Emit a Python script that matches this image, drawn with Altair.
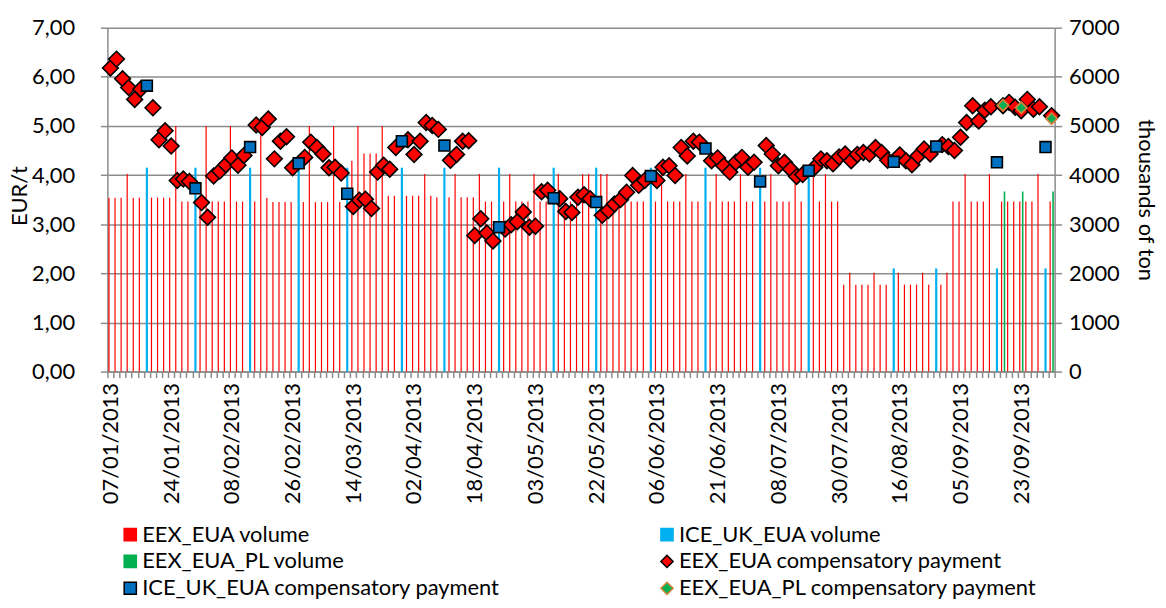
import altair as alt
import pandas as pd

# ---------------- data ----------------
N_CAT = 156
DATE_LABELS = ["07/01/2013", "24/01/2013", "08/02/2013", "26/02/2013", "14/03/2013",
               "02/04/2013", "18/04/2013", "03/05/2013", "22/05/2013", "06/06/2013",
               "21/06/2013", "08/07/2013", "30/07/2013", "16/08/2013", "05/09/2013",
               "23/09/2013"]

EEX_IDX = [0, 1, 2, 3, 4, 5, 7, 8, 9, 10, 11, 12, 13, 15, 16, 17, 18, 19, 20, 21, 22, 24, 25,
           26, 27, 28, 29, 30, 32, 33, 34, 35, 36, 37, 38, 40, 41, 42, 43, 44, 45, 46, 47,
           49, 50, 51, 52, 53, 54, 56, 57, 58, 59, 60, 61, 62, 63, 65, 66, 67, 68, 69, 70,
           71, 72, 74, 75, 76, 77, 78, 79, 81, 82, 83, 84, 85, 86, 87, 88, 90, 91, 92, 93,
           94, 95, 96, 97, 99, 100, 101, 102, 103, 104, 105, 106, 108, 109, 110, 111, 112,
           113, 114, 116, 117, 118, 119, 120, 121, 122, 123, 124, 125, 126, 127, 128, 130,
           131, 132, 133, 134, 135, 137, 138, 139, 140, 141, 142, 143, 144, 145, 147, 148,
           149, 150, 151, 152, 153, 155]
EEX_VOL = [3540, 3540, 3540, 4020, 3540, 3540, 3540, 3540, 3540, 3540, 5000, 3460, 3460,
           3460, 5000, 3460, 3460, 3460, 5000, 3460, 3460, 3460, 5000,
           3540, 3450, 3450, 3450, 3450, 3450, 5000, 3450, 3450, 3450, 5000, 3450,
           4290, 5000, 4440, 4440, 4440, 5000, 3580, 3580,
           3580, 3580, 3580, 4020, 3580, 3550, 3550, 4020, 3550, 3550, 3550, 4020, 3460, 3460,
           3460, 4020, 3460, 3460, 3460, 4020, 3460, 3460, 4020, 3460, 3460, 3460, 4020, 4020,
           4020, 4020, 3460, 3460, 3460, 3460, 3460, 3460, 3460, 4020, 3460, 3460,
           3460, 4020, 3460, 3460, 3460, 4020, 3460, 3460, 3460, 4020, 3460, 3460,
           3460, 4020, 3460, 3460, 3460, 4020, 3460, 4020, 3460, 4020, 3460, 3460,
           1770, 2010, 1770, 1770, 1770, 2010, 1770, 1770, 2010,
           1770, 1770, 1770, 2010, 1770, 1770, 2010, 3460, 3460, 4020, 3460, 3460, 3460, 4020,
           3460, 3460, 3460, 3460, 3460, 3460, 4020, 3460]
EEX_PRICE = [6.18, 6.36, 5.96, 5.78, 5.54, 5.75, 5.37, 4.72, 4.90, 4.59, 3.89, 3.92, 3.87,
             3.44, 3.14, 3.98, 4.08, 4.21, 4.35, 4.20, 4.40, 5.02, 4.97,
             5.14, 4.33, 4.69, 4.78, 4.15, 4.36, 4.67, 4.56, 4.43, 4.15, 4.16, 4.04,
             3.36, 3.49, 3.51, 3.32, 4.06, 4.20, 4.12, 4.56,
             4.72, 4.42, 4.69, 5.07, 5.01, 4.93, 4.30, 4.42, 4.69, 4.70, 2.77, 3.11, 2.82, 2.66,
             2.90, 2.99, 3.05, 3.25, 2.94, 2.96, 3.66, 3.69, 3.52, 3.26, 3.24, 3.55, 3.60, 3.52,
             3.18, 3.28, 3.41, 3.50, 3.65, 3.99, 3.79, 3.89, 3.89, 4.16, 4.19, 3.99,
             4.56, 4.39, 4.69, 4.67, 4.29, 4.35, 4.19, 4.06, 4.26, 4.36, 4.16, 4.26,
             4.60, 4.43, 4.19, 4.26, 4.12, 3.97, 4.01, 4.16, 4.33, 4.29, 4.23, 4.37,
             4.43, 4.29, 4.42, 4.46, 4.43, 4.56, 4.46, 4.30, 4.41,
             4.29, 4.21, 4.39, 4.53, 4.43, 4.62, 4.58, 4.50, 4.77, 5.07, 5.41, 5.10, 5.32, 5.39,
             5.41, 5.48, 5.38, 5.31, 5.54, 5.34, 5.39, 5.21]

ICE_IDX = [6, 14, 23, 31, 39, 48, 55, 64, 73, 80, 89, 98, 107, 115, 129, 136, 146, 154]
ICE_VOL = [4150, 4150, 4150, 4150, 4150, 4150, 4150, 4150, 4150, 4150, 4150, 4150, 4150, 4150,
           2100, 2100, 2100, 2100]
ICE_PRICE = [5.82, 3.73, 4.57, 4.24, 3.62, 4.69, 4.60, 2.94, 3.53, 3.45, 3.98, 4.54, 3.87,
             4.09, 4.27, 4.58, 4.26, 4.57]

PL_IDX = [147, 150, 155]
PL_VOL = [3665, 3665, 3665]
PL_PRICE = [5.42, 5.37, 5.15]

# legend order: the legend fills its two columns top to bottom
SERIES = ["EEX_EUA volume", "EEX_EUA_PL volume", "ICE_UK_EUA compensatory payment",
          "ICE_UK_EUA volume", "EEX_EUA compensatory payment",
          "EEX_EUA_PL compensatory payment"]
FILLS = ["#FF0000", "#00B050", "#0070C0", "#00B0F0", "#FF0000", "#00B050"]
STROKES = ["#FF0000", "#00B050", "#000000", "#00B0F0", "#000000", "#D2823C"]
SHAPES = ["square", "square", "square", "square", "diamond", "diamond"]

# ---------------- frames ----------------
eex = pd.DataFrame({"idx": EEX_IDX, "vol": EEX_VOL, "price": EEX_PRICE,
                    "series": "EEX_EUA compensatory payment"})
ice = pd.DataFrame({"idx": ICE_IDX, "vol": ICE_VOL, "price": ICE_PRICE,
                    "series": "ICE_UK_EUA compensatory payment"})
pl = pd.DataFrame({"idx": PL_IDX, "vol": PL_VOL, "price": PL_PRICE,
                   "series": "EEX_EUA_PL compensatory payment"})

W, H = 953, 346
FONT = "Lato"
GRAY = "#8C8C8C"
half = W / N_CAT / 2

x_scale = alt.Scale(domain=[-0.5, N_CAT - 0.5], nice=False, zero=False)
bounds = [i - 0.5 for i in range(N_CAT + 1)]
lab_js = "[" + ",".join("'" + s + "'" for s in DATE_LABELS) + "]"
x_axis = alt.Axis(values=bounds,
                  labelExpr="(datum.value + 0.5) % 10 == 0 ? " + lab_js + "[(datum.value + 0.5) / 10] : ''",
                  labelAngle=-90, labelOffset=half, labelOverlap=False, labelFlush=False,
                  labelBound=False, grid=False, tickSize=6, tickWidth=1.5, labelPadding=5,
                  domainWidth=1.5, title=None)

vol_scale = alt.Scale(domain=[0, 7000], nice=False, zero=True)
vol_axis = alt.Axis(orient="right", values=list(range(0, 7001, 1000)), format="d", grid=False,
                    tickSize=7, tickWidth=1.5, labelPadding=7, domainWidth=1.5,
                    title="thousands of ton", titlePadding=14)
price_scale = alt.Scale(domain=[0, 7], nice=False, zero=True)
price_axis = alt.Axis(orient="left", values=list(range(0, 8)),
                      labelExpr="replace(format(datum.value, '.2f'), '.', ',')",
                      grid=True, gridColor=GRAY, gridWidth=1.5, tickSize=7, tickWidth=1.5,
                      labelPadding=26, domainWidth=1.5, title="EUR/t",
                      titleX=-76, titleY=H / 2 - 4, titleAngle=-90, titleBaseline="bottom",
                      titleAlign="center")

legend = alt.Legend(title=None, orient="none", legendX=12, legendY=499, columns=2,
                    columnPadding=156, rowPadding=5, symbolSize=150, symbolStrokeWidth=1.5,
                    labelFont=FONT, labelFontSize=22, labelColor="black", labelOffset=1,
                    labelLimit=600, padding=0)
color_enc = alt.Color("series:N", scale=alt.Scale(domain=SERIES, range=FILLS), legend=legend)
stroke_enc = alt.Stroke("series:N", scale=alt.Scale(domain=SERIES, range=STROKES), legend=legend)
shape_enc = alt.Shape("series:N", scale=alt.Scale(domain=SERIES, range=SHAPES), legend=legend)


def vol_layer(df, offset, color, width):
    return alt.Chart(df).transform_calculate(xp="datum.idx + (" + str(offset) + ")").mark_rule(
        color=color, strokeWidth=width).encode(
        x=alt.X("xp:Q", scale=x_scale, axis=x_axis),
        y=alt.Y("vol:Q", scale=vol_scale, axis=vol_axis),
        y2=alt.datum(0),
    )


def price_layer(df, size, width):
    return alt.Chart(df).mark_point(filled=True, opacity=1, size=size, strokeWidth=width).encode(
        x=alt.X("idx:Q", scale=x_scale, axis=x_axis),
        y=alt.Y("price:Q", scale=price_scale, axis=price_axis),
        color=color_enc, stroke=stroke_enc, shape=shape_enc,
    )


volumes = alt.layer(vol_layer(eex, -0.24, "#FF0000", 1.2),
                    vol_layer(ice, 0.0, "#00B0F0", 2.2),
                    vol_layer(pl, 0.24, "#00B050", 1.6))
prices = alt.layer(price_layer(eex, 250, 1.6),
                   price_layer(ice, 120, 1.6),
                   price_layer(pl, 130, 1.8))

chart = alt.layer(volumes, prices).resolve_scale(y="independent").properties(
    width=W, height=H,
    autosize=alt.AutoSizeParams(type="none"),
    padding={"left": 100, "top": 18, "right": 104, "bottom": 228},
).configure_view(stroke=None).configure_axis(
    labelFont=FONT, titleFont=FONT, labelFontSize=22, titleFontSize=22,
    labelColor="black", titleColor="black", titleFontWeight="normal",
    domainColor=GRAY, tickColor=GRAY,
)

chart.save("out.html", embed_options={"renderer": "svg", "actions": False})
